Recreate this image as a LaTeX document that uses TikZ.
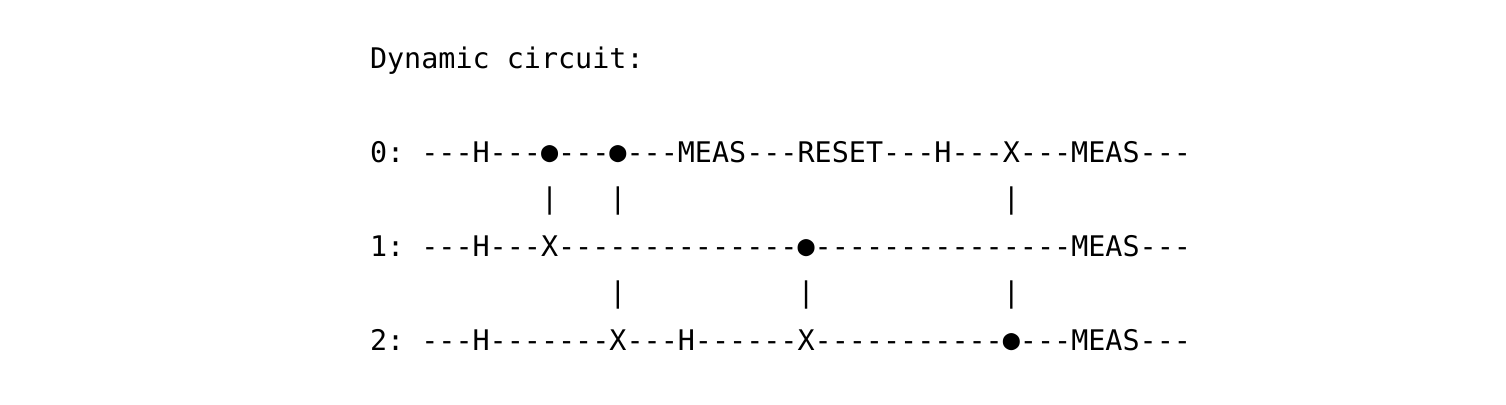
\documentclass[tikz,border=0pt]{standalone}
\usepackage{fontspec}
\newfontfamily\circuitfont{DejaVu Sans Mono}
\newcommand\ctrldot{\raisebox{0.8pt}{●}}
\tikzset{
  x=1pt,y=-1pt,
  row/.style={anchor=base west,inner sep=0pt,outer sep=0pt,text=black,
    font=\circuitfont\fontsize{28.41}{34}\selectfont}
}
\begin{document}
\begin{tikzpicture}
\useasboundingbox[fill=white] (0,0) rectangle (1506,404);
\node[row] (title) at (370,68.5) {Dynamic\ circuit:};
\node[row] (q0) at (370,162.5) {0:\ ---H---\ctrldot---\ctrldot---MEAS---RESET---H---X---MEAS---};
\node[row] (p01a) at (370,208) {\ \ \ \ \ \ \ \ \ \ |\ \ \ |\ \ \ \ \ \ \ \ \ \ \ \ \ \ \ \ \ \ \ \ \ \ |};
\node[row] (q1) at (370,256.5) {1:\ ---H---X--------------\ctrldot---------------MEAS---};
\node[row] (p12) at (370,302) {\ \ \ \ \ \ \ \ \ \ \ \ \ \ |\ \ \ \ \ \ \ \ \ \ |\ \ \ \ \ \ \ \ \ \ \ |};
\node[row] (q2) at (370,350.5) {2:\ ---H-------X---H------X-----------\ctrldot---MEAS---};
\end{tikzpicture}
\end{document}
